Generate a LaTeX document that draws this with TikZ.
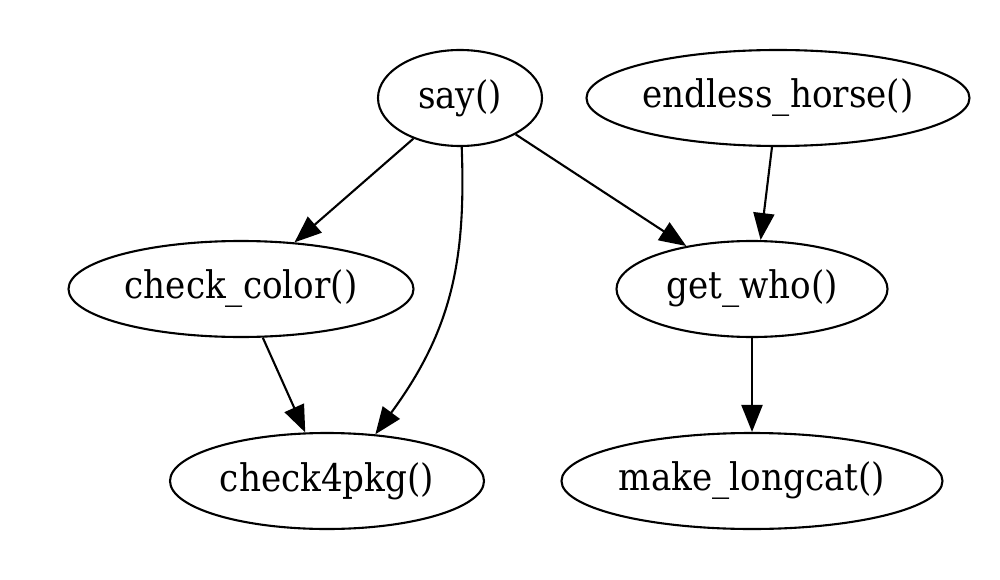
\documentclass[tikz,border=0pt]{standalone}
\usepackage{fontspec}
\setmainfont{DejaVu Serif Condensed}
\usetikzlibrary{shapes.geometric,arrows.meta}
\begin{document}
\begin{tikzpicture}[x=1pt,y=-1pt,
  fn/.style={ellipse,draw,line width=2.1pt,inner sep=0pt,minimum height=96pt,font=\fontsize{38}{44}\selectfont},
  arr/.style={line width=2.1pt,-{Triangle[length=27pt,width=21pt]}}]
\useasboundingbox (0,0) rectangle (1000,580);
\node[fn,minimum width=164pt] (say) at (460,98) {say()};
\node[fn,minimum width=381pt] (eh) at (778,98) {endless\_horse()};
\node[fn,minimum width=345pt] (cc) at (241,289) {check\_color()};
\node[fn,minimum width=271pt] (gw) at (752,289) {get\_who()};
\node[fn,minimum width=314pt] (c4) at (327,481) {check4pkg()};
\node[fn,minimum width=381pt] (ml) at (752,481) {make\_longcat()};
\draw[arr] (say) -- (cc);
\draw[arr] (say) -- (gw);
\draw[arr] (eh.-97) -- (gw.80);
\draw[arr] (gw) -- (ml);
\draw[arr] (cc) -- (c4);
\draw[arr] (say.-88) .. controls (466,260) and (452,330) .. (c4.44);
\end{tikzpicture}
\end{document}
